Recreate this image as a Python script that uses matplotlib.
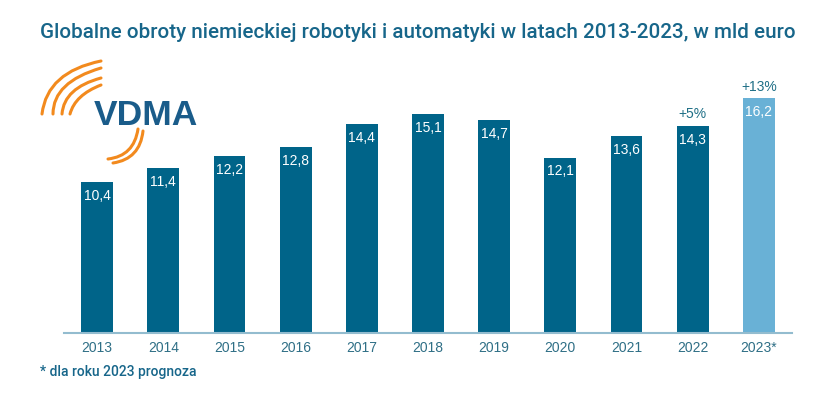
import matplotlib.pyplot as plt
from matplotlib.path import Path
from matplotlib.patches import PathPatch
import numpy as np

# --- Données ---
annees = ["2013", "2014", "2015", "2016", "2017", "2018", "2019", "2020", "2021", "2022", "2023*"]
obroty = [10.4, 11.4, 12.2, 12.8, 14.4, 15.1, 14.7, 12.1, 13.6, 14.3, 16.2]
etiquettes = ["10,4", "11,4", "12,2", "12,8", "14,4", "15,1", "14,7", "12,1", "13,6", "14,3", "16,2"]
zmiany = {9: "+5%", 10: "+13%"}

titre = "Globalne obroty niemieckiej robotyki i automatyki w latach 2013-2023, w mld euro"
note = "* dla roku 2023 prognoza"

bleu_fonce = "#006489"
bleu_clair = "#69b1d6"
bleu_texte = "#17668a"
orange = "#f28a1e"

police_titre = ["Roboto", "DejaVu Sans"]
police = ["Liberation Sans", "DejaVu Sans"]

fig = plt.figure(figsize=(8.4, 3.96), dpi=100)

# --- Axes principaux ---
ax = fig.add_axes([64 / 840, 63 / 396, 728 / 840, 243.6 / 396])
x = np.arange(len(annees))
couleurs = [bleu_fonce] * (len(annees) - 1) + [bleu_clair]
barres = ax.bar(x, obroty, width=0.48, color=couleurs)
ax.set_xlim(-0.5, len(annees) - 0.5)
ax.set_ylim(0, 16.8)

for s in ["top", "right", "left"]:
    ax.spines[s].set_visible(False)
ax.spines["bottom"].set_color("#93bccf")
ax.spines["bottom"].set_linewidth(1.5)
ax.set_yticks([])
ax.set_xticks(x)
ax.set_xticklabels(annees, family=police, fontsize=10, color="#2f6f86")
ax.tick_params(axis="x", length=0, pad=6)

for i, (v, t) in enumerate(zip(obroty, etiquettes)):
    ax.annotate(t, (i, v), xytext=(0, -10), textcoords="offset points",
                ha="center", va="center", color="white", fontsize=10, family=police)
for i, t in zmiany.items():
    ax.annotate(t, (i, obroty[i]), xytext=(0, 3), textcoords="offset points",
                ha="center", va="bottom", color="#1f6f86", fontsize=10, family=police)

# --- Titre et note ---
fig.text(418 / 840, 1 - 33 / 396, titre, ha="center", va="center",
         fontsize=14.9, color=bleu_texte, family=police_titre, fontweight=500)
fig.text(40 / 840, 1 - 372 / 396, note, ha="left", va="center",
         fontsize=10, color=bleu_texte, family=police_titre, fontweight=500)

# --- Logo VDMA (en coordonnées pixels) ---
logo = fig.add_axes([0, 0, 1, 1], zorder=5)
logo.set_xlim(0, 840)
logo.set_ylim(396, 0)
logo.axis("off")
logo.patch.set_alpha(0)

arcs = [
    ((42, 114), (47, 72), (101, 61)),
    ((53, 114), (53, 82), (101, 68)),
    ((62, 114), (64, 88), (101, 78)),
    ((70, 114), (75, 95), (101, 85)),
    ((108, 159), (134, 156), (138, 129)),
    ((113, 163), (140, 159), (143, 131)),
]
for p0, c, p1 in arcs:
    chemin = Path([p0, c, p1], [Path.MOVETO, Path.CURVE3, Path.CURVE3])
    logo.add_patch(PathPatch(chemin, fill=False, ec=orange, lw=2.2, capstyle="round"))

logo.text(94, 125, "VDMA", ha="left", va="baseline", fontsize=25.5,
          fontweight="bold", color="#1a5c8a", family=police)

plt.savefig("out.png", dpi=100)
